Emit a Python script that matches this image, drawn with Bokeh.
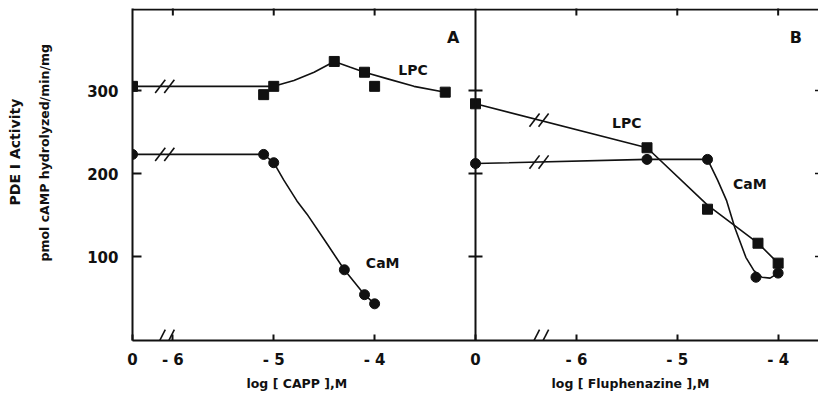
import numpy as np
from bokeh.plotting import figure
from bokeh.models import Range1d, FixedTicker, Label, Span, Title
from bokeh.embed import file_html
from bokeh.resources import INLINE

# ---------------- data (log molar concentration, pmol cAMP hydrolyzed/min/mg) ----------------
# Panel A : log [CAPP]
a_zero = -6.4          # position of the "0" (no drug) point
a_lpc_x = [-6.4, -5.1, -5.0, -4.4, -4.1, -4.0, -3.3]
a_lpc_y = [305, 295, 305, 335, 322, 305, 298]
a_lpc_fit_x = [-6.4, -5.0, -4.8, -4.6, -4.4, -4.24, -4.1, -3.87, -3.61, -3.3]
a_lpc_fit_y = [305, 305, 312, 322, 335, 328, 322, 314, 305, 298]
a_cam_x = [-6.4, -5.1, -5.0, -4.3, -4.1, -4.0]
a_cam_y = [223, 223, 213, 84, 54, 43]
a_cam_fit_x = [-6.4, -5.1, -5.0, -4.9, -4.77, -4.67, -4.47, -4.3, -4.1, -4.0]
a_cam_fit_y = [223, 223, 213, 192, 167, 151, 115, 84, 54, 43]

# Panel B : log [Fluphenazine]
b_zero = -7.0
b_lpc_x = [-7.0, -5.3, -4.7, -4.2, -4.0]
b_lpc_y = [284, 231, 157, 116, 92]
b_lpc_fit_x = [-7.0, -5.3, -4.7, -4.2, -4.0]
b_lpc_fit_y = [284, 231, 162, 116, 92]
b_cam_x = [-7.0, -5.3, -4.7, -4.22, -4.0]
b_cam_y = [212, 217, 217, 75, 80]
b_cam_fit_x = [-7.0, -5.3, -4.7, -4.6, -4.51, -4.43, -4.32, -4.24, -4.16, -4.08, -4.0]
b_cam_fit_y = [212, 217, 217, 192, 167, 135, 99, 83, 75, 74, 80]

x_ticks = [-6, -5, -4]
x_tick_labels = ["- 6", "- 5", "- 4"]
y_ticks = [100, 200, 300]
y_tick_labels = ["100", "200", "300"]

a_break = -6.08
b_break = -6.37

a_title = "log [ CAPP ],M"
b_title = "log [ Fluphenazine ],M"
y_title_1 = "PDE I Activity"
y_title_2 = "pmol cAMP hydrolyzed/min/mg"

# ---------------- layout ----------------
B_OFFSET = 4.0  # panel B drawn to the right of panel A on one shared x scale
B_END = -3.6
Y_LO, Y_HI = -1.2, 398.8
Y_TOP = 397.6
FONT = "DejaVu Sans"
INK = "#111111"

p = figure(width=818, height=400, output_backend="svg", toolbar_location=None,
           x_range=Range1d(a_zero, B_END + B_OFFSET), y_range=Range1d(Y_LO, Y_HI),
           min_border_left=132, min_border_right=0, min_border_top=8, min_border_bottom=60)
p.grid.visible = False
p.outline_line_color = None
p.background_fill_color = "white"
p.border_fill_color = "white"

def bx(xs):
    return [x + B_OFFSET for x in xs]

# bottom axis
xa = p.xaxis[0]
ticks = [a_zero] + x_ticks + [b_zero + B_OFFSET] + bx(x_ticks)
labels = ["0"] + x_tick_labels + ["0"] + x_tick_labels
xa.ticker = FixedTicker(ticks=ticks)
overrides = {}
for t, l in zip(ticks, labels):
    key = int(t) if float(t).is_integer() else t
    overrides[key] = l
xa.major_label_overrides = overrides
xa.major_tick_in = 6
xa.major_tick_out = 0
xa.minor_tick_line_color = None
xa.axis_line_width = 2
xa.major_tick_line_width = 2
xa.axis_line_color = INK
xa.major_tick_line_color = INK
xa.major_label_standoff = 10
xa.major_label_text_font = FONT
xa.major_label_text_font_style = "bold"
xa.major_label_text_font_size = "15px"
xa.major_label_text_color = INK

# left axis
ya = p.yaxis[0]
ya.ticker = FixedTicker(ticks=y_ticks)
ya.major_label_overrides = dict(zip(y_ticks, y_tick_labels))
ya.major_tick_in = 9
ya.major_tick_out = 0
ya.minor_tick_line_color = None
ya.axis_line_width = 2
ya.major_tick_line_width = 2
ya.axis_line_color = INK
ya.major_tick_line_color = INK
ya.major_label_standoff = 14
ya.major_label_text_font = FONT
ya.major_label_text_font_style = "bold"
ya.major_label_text_font_size = "15px"
ya.major_label_text_color = INK

# top frame line and inward ticks
p.add_layout(Span(location=Y_TOP, dimension="width", line_color=INK, line_width=2))
p.scatter(x_ticks + bx(x_ticks), [Y_TOP] * 6, marker="dash", angle=np.pi / 2, size=12,
          line_color=INK, line_width=2)

# middle vertical axis of panel B (crossing ticks)
p.add_layout(Span(location=b_zero + B_OFFSET, dimension="height", line_color=INK, line_width=2))
p.scatter([b_zero + B_OFFSET] * len(y_ticks), y_ticks, marker="dash", size=14,
          line_color=INK, line_width=2)
# right edge small ticks
p.scatter([B_END + B_OFFSET] * len(y_ticks), y_ticks, marker="dash", size=7,
          line_color=INK, line_width=1.5)

# ---------------- curves ----------------
LW = 1.6
p.line(a_lpc_fit_x, a_lpc_fit_y, line_color=INK, line_width=LW)
p.line(a_cam_fit_x, a_cam_fit_y, line_color=INK, line_width=LW)
p.line(bx(b_lpc_fit_x), b_lpc_fit_y, line_color=INK, line_width=LW)
p.line(bx(b_cam_fit_x), b_cam_fit_y, line_color=INK, line_width=LW)

p.scatter(a_lpc_x, a_lpc_y, marker="square", size=10, fill_color=INK, line_color=INK)
p.scatter(a_cam_x, a_cam_y, marker="circle", size=10, fill_color=INK, line_color=INK)
p.scatter(bx(b_lpc_x), b_lpc_y, marker="square", size=10, fill_color=INK, line_color=INK)
p.scatter(bx(b_cam_x), b_cam_y, marker="circle", size=10, fill_color=INK, line_color=INK)

# ---------------- axis breaks "//" ----------------
def slashes(xc, yc, h):
    x0, y0, x1, y1 = [], [], [], []
    for d in (-0.045, 0.045):
        x0.append(xc + d - 0.05); y0.append(yc - h / 2)
        x1.append(xc + d + 0.05); y1.append(yc + h / 2)
    return x0, y0, x1, y1

brk = [
    slashes(a_break, np.interp(a_break, a_lpc_fit_x, a_lpc_fit_y), 16),
    slashes(a_break, np.interp(a_break, a_cam_fit_x, a_cam_fit_y), 16),
    slashes(a_break, 0, 24),
    slashes(b_break + B_OFFSET, np.interp(b_break, b_lpc_fit_x, b_lpc_fit_y), 16),
    slashes(b_break + B_OFFSET, np.interp(b_break, b_cam_fit_x, b_cam_fit_y), 16),
    slashes(b_break + B_OFFSET, 0, 24),
]
for x0, y0, x1, y1 in brk:
    p.segment(x0, y0, x1, y1, line_color=INK, line_width=1.6)

# ---------------- text inside the panels ----------------
def lab(x, y, text, size):
    p.add_layout(Label(x=x, y=y, text=text, text_align="center", text_baseline="middle",
                       text_font=FONT, text_font_style="bold",
                       text_font_size=size, text_color=INK))

lab(-3.22, 364, "A", "16px")
lab(-3.825 + B_OFFSET, 364, "B", "16px")
lab(-3.62, 325, "LPC", "14px")
lab(-3.92, 92, "CaM", "14px")
lab(-5.50 + B_OFFSET, 261, "LPC", "14px")
lab(-4.28 + B_OFFSET, 187, "CaM", "14px")

# ---------------- axis titles ----------------
gap = "\u2003" * 16 + "\u00a0"
p.add_layout(Title(text=a_title + gap + b_title, align="left", offset=114,
                   text_font=FONT, text_font_style="bold", text_font_size="12.5px",
                   text_color=INK, standoff=4), "below")
p.add_layout(Title(text=y_title_2, align="left", offset=79,
                   text_font=FONT, text_font_style="bold", text_font_size="12.5px",
                   text_color=INK, standoff=66), "left")
p.add_layout(Title(text=y_title_1, align="left", offset=135,
                   text_font=FONT, text_font_style="bold", text_font_size="14px",
                   text_color=INK, standoff=-42), "left")

open("out.html", "w").write(file_html(p, INLINE))
